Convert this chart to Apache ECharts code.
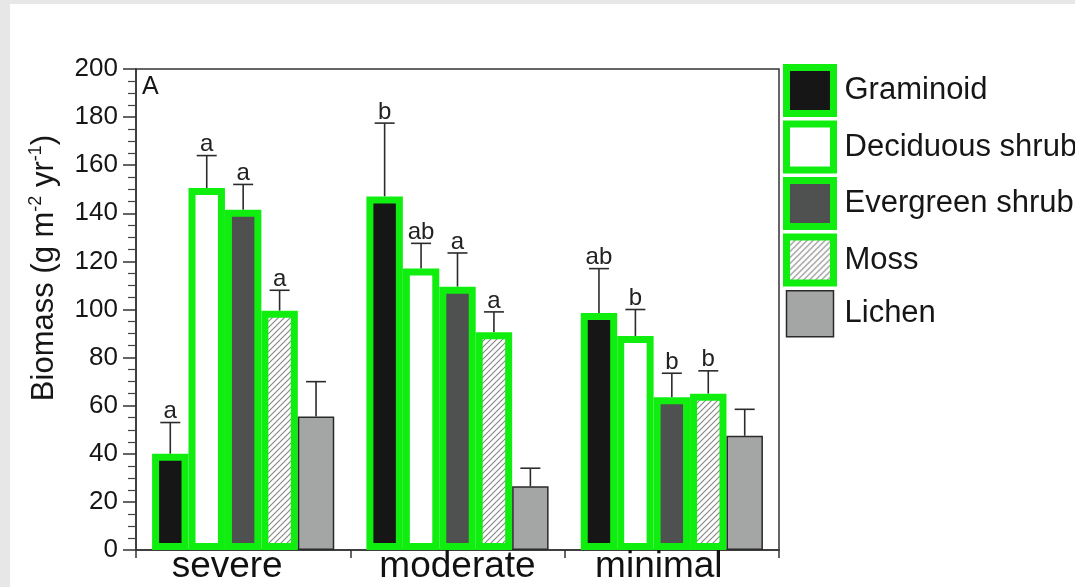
<!DOCTYPE html>
<html>
<head>
<meta charset="utf-8">
<script src="https://cdn.jsdelivr.net/npm/echarts@6/dist/echarts.min.js"></script>
<style>
  html, body { margin: 0; padding: 0; background: #e7e7e7; width: 1075px; height: 587px; overflow: hidden; }
  #chart { position: absolute; left: 10px; top: 4px; width: 1065px; height: 583px; background: #ffffff; }
</style>
</head>
<body>
<div id="chart"></div>
<script>
// ---- data ----
const categories = ['severe', 'moderate', 'minimal'];
const seriesNames = ['Graminoid', 'Deciduous shrub', 'Evergreen shrub', 'Moss', 'Lichen'];
const graminoid = [40, 147, 98.5];
const graminoidErr = [13, 30.5, 18.5];
const graminoidSig = ['a', 'b', 'ab'];
const deciduous = [150.5, 117, 89];
const deciduousErr = [13.5, 10.5, 11];
const deciduousSig = ['a', 'ab', 'b'];
const evergreen = [141.5, 109.5, 63.5];
const evergreenErr = [10.5, 14, 10];
const evergreenSig = ['a', 'a', 'b'];
const moss = [99.5, 90.5, 65];
const mossErr = [8.5, 8.5, 9.5];
const mossSig = ['a', 'a', 'b'];
const lichen = [55.5, 26.5, 47.5];
const lichenErr = [14.5, 7.5, 11];
const lichenSig = ['', '', ''];
const yMin = 0, yMax = 200, yStep = 20;

// ---- styling ----
const FONT = 'Liberation Sans, Arial, Helvetica, sans-serif';
const GREEN = '#10ee10';
const CAT_GAP = 0.15;

function hatch() {
  const s = 6;
  const c = document.createElement('canvas');
  c.width = s; c.height = s;
  const g = c.getContext('2d');
  g.fillStyle = '#ffffff';
  g.fillRect(0, 0, s, s);
  g.strokeStyle = '#858585';
  g.lineWidth = 1.1;
  g.beginPath();
  g.moveTo(0, s); g.lineTo(s, 0);
  g.moveTo(-1, 1); g.lineTo(1, -1);
  g.moveTo(s - 1, s + 1); g.lineTo(s + 1, s - 1);
  g.stroke();
  return { image: c, repeat: 'repeat' };
}

const barDefs = [
  { data: graminoid, err: graminoidErr, sig: graminoidSig, color: '#161616', border: GREEN, bw: 7 },
  { data: deciduous, err: deciduousErr, sig: deciduousSig, color: '#ffffff', border: GREEN, bw: 7 },
  { data: evergreen, err: evergreenErr, sig: evergreenSig, color: '#4e5150', border: GREEN, bw: 7 },
  { data: moss, err: mossErr, sig: mossSig, color: hatch(), border: GREEN, bw: 7 },
  { data: lichen, err: lichenErr, sig: lichenSig, color: '#a4a6a5', border: '#2a2a2a', bw: 1.5 }
];

const series = [];
barDefs.forEach(function (d, si) {
  series.push({
    type: 'bar',
    name: seriesNames[si],
    data: d.data,
    barGap: '0%',
    barCategoryGap: (CAT_GAP * 100) + '%',
    z: 2,
    itemStyle: { color: d.color, borderColor: d.border, borderWidth: d.bw },
    emphasis: { disabled: true }
  });
});
barDefs.forEach(function (d, si) {
  series.push({
    type: 'custom',
    z: 1,
    silent: true,
    data: d.data.map(function (v, i) { return [i, v, v + d.err[i]]; }),
    encode: { x: 0, y: [1, 2] },
    renderItem: function (params, api) {
      const ci = api.value(0);
      const base = api.coord([ci, api.value(1)]);
      const top = api.coord([ci, api.value(2)]);
      const band = api.size([1, 0])[0];
      const n = seriesNames.length;
      const bw = band * (1 - CAT_GAP) / n;
      const x = base[0] + (si - (n - 1) / 2) * bw;
      const st = { stroke: '#2b2b2b', lineWidth: 1.6 };
      const children = [
        { type: 'line', shape: { x1: x, y1: base[1], x2: x, y2: top[1] }, style: st },
        { type: 'line', shape: { x1: x - 10, y1: top[1], x2: x + 10, y2: top[1] }, style: st }
      ];
      const lab = d.sig[params.dataIndex];
      if (lab) {
        children.push({
          type: 'text', x: x, y: top[1] + 1,
          style: { text: lab, fill: '#222', fontSize: 24, fontFamily: FONT, align: 'center', verticalAlign: 'bottom' }
        });
      }
      return { type: 'group', children: children };
    }
  });
});

const legendData = seriesNames.map(function (n, i) {
  return { name: n, itemStyle: { borderWidth: barDefs[i].bw, borderColor: barDefs[i].border } };
});

const labelRich = {
  l0: { fontSize: 37, fontFamily: FONT, lineHeight: 30, color: '#111', padding: [0, 32, 0, 0] },
  l1: { fontSize: 37, fontFamily: FONT, lineHeight: 30, color: '#111' },
  l2: { fontSize: 37, fontFamily: FONT, lineHeight: 30, color: '#111', padding: [0, 26, 0, 0] }
};

const chart = echarts.init(document.getElementById('chart'), null, { renderer: 'canvas' });
chart.setOption({
  animation: false,
  backgroundColor: '#ffffff',
  textStyle: { fontFamily: FONT },
  grid: { left: 126, right: 296, top: 65, bottom: 37, show: true, borderColor: '#333', borderWidth: 1.5, backgroundColor: 'transparent' },
  legend: {
    data: legendData,
    orient: 'vertical',
    left: 773,
    top: 60,
    padding: 0,
    itemWidth: 47,
    itemHeight: 46,
    itemGap: 3.5,
    selectedMode: false,
    icon: 'rect',
    textStyle: { fontSize: 31, color: '#161616', fontFamily: FONT, padding: [0, 0, 0, 6] }
  },
  xAxis: {
    type: 'category',
    data: categories,
    axisLine: { lineStyle: { color: '#333', width: 1.5 } },
    axisTick: { show: true, interval: 0, length: 8, lineStyle: { color: '#333', width: 1.5 } },
    axisLabel: {
      interval: 0,
      hideOverlap: false,
      margin: 2,
      color: '#111',
      fontSize: 37,
      fontFamily: FONT,
      lineHeight: 30,
      formatter: function (v, i) { return '{l' + i + '|' + v + '}'; },
      rich: labelRich
    },
    splitLine: { show: false }
  },
  yAxis: {
    type: 'value',
    min: yMin, max: yMax, interval: yStep,
    name: 'Biomass (g m{sup|-2} yr{sup|-1})',
    nameLocation: 'middle',
    nameGap: 75,
    nameTextStyle: {
      fontSize: 31, color: '#161616', fontFamily: FONT, lineHeight: 34,
      padding: [0, 0, 0, 83],
      rich: { sup: { fontSize: 18, fontFamily: FONT, color: '#161616', verticalAlign: 'top', lineHeight: 34 } }
    },
    axisLine: { show: true, lineStyle: { color: '#333', width: 1.5 } },
    axisTick: { show: true, length: 13, lineStyle: { color: '#333', width: 1.5 } },
    minorTick: { show: true, splitNumber: 4, length: 8, lineStyle: { color: '#444', width: 1.2 } },
    axisLabel: { margin: 18, fontSize: 26, color: '#161616', fontFamily: FONT },
    splitLine: { show: false },
    minorSplitLine: { show: false }
  },
  graphic: [
    { type: 'text', left: 132, top: 71, style: { text: 'A', fontSize: 25, fontFamily: FONT, fill: '#161616' } }
  ],
  series: series
});
</script>
</body>
</html>
